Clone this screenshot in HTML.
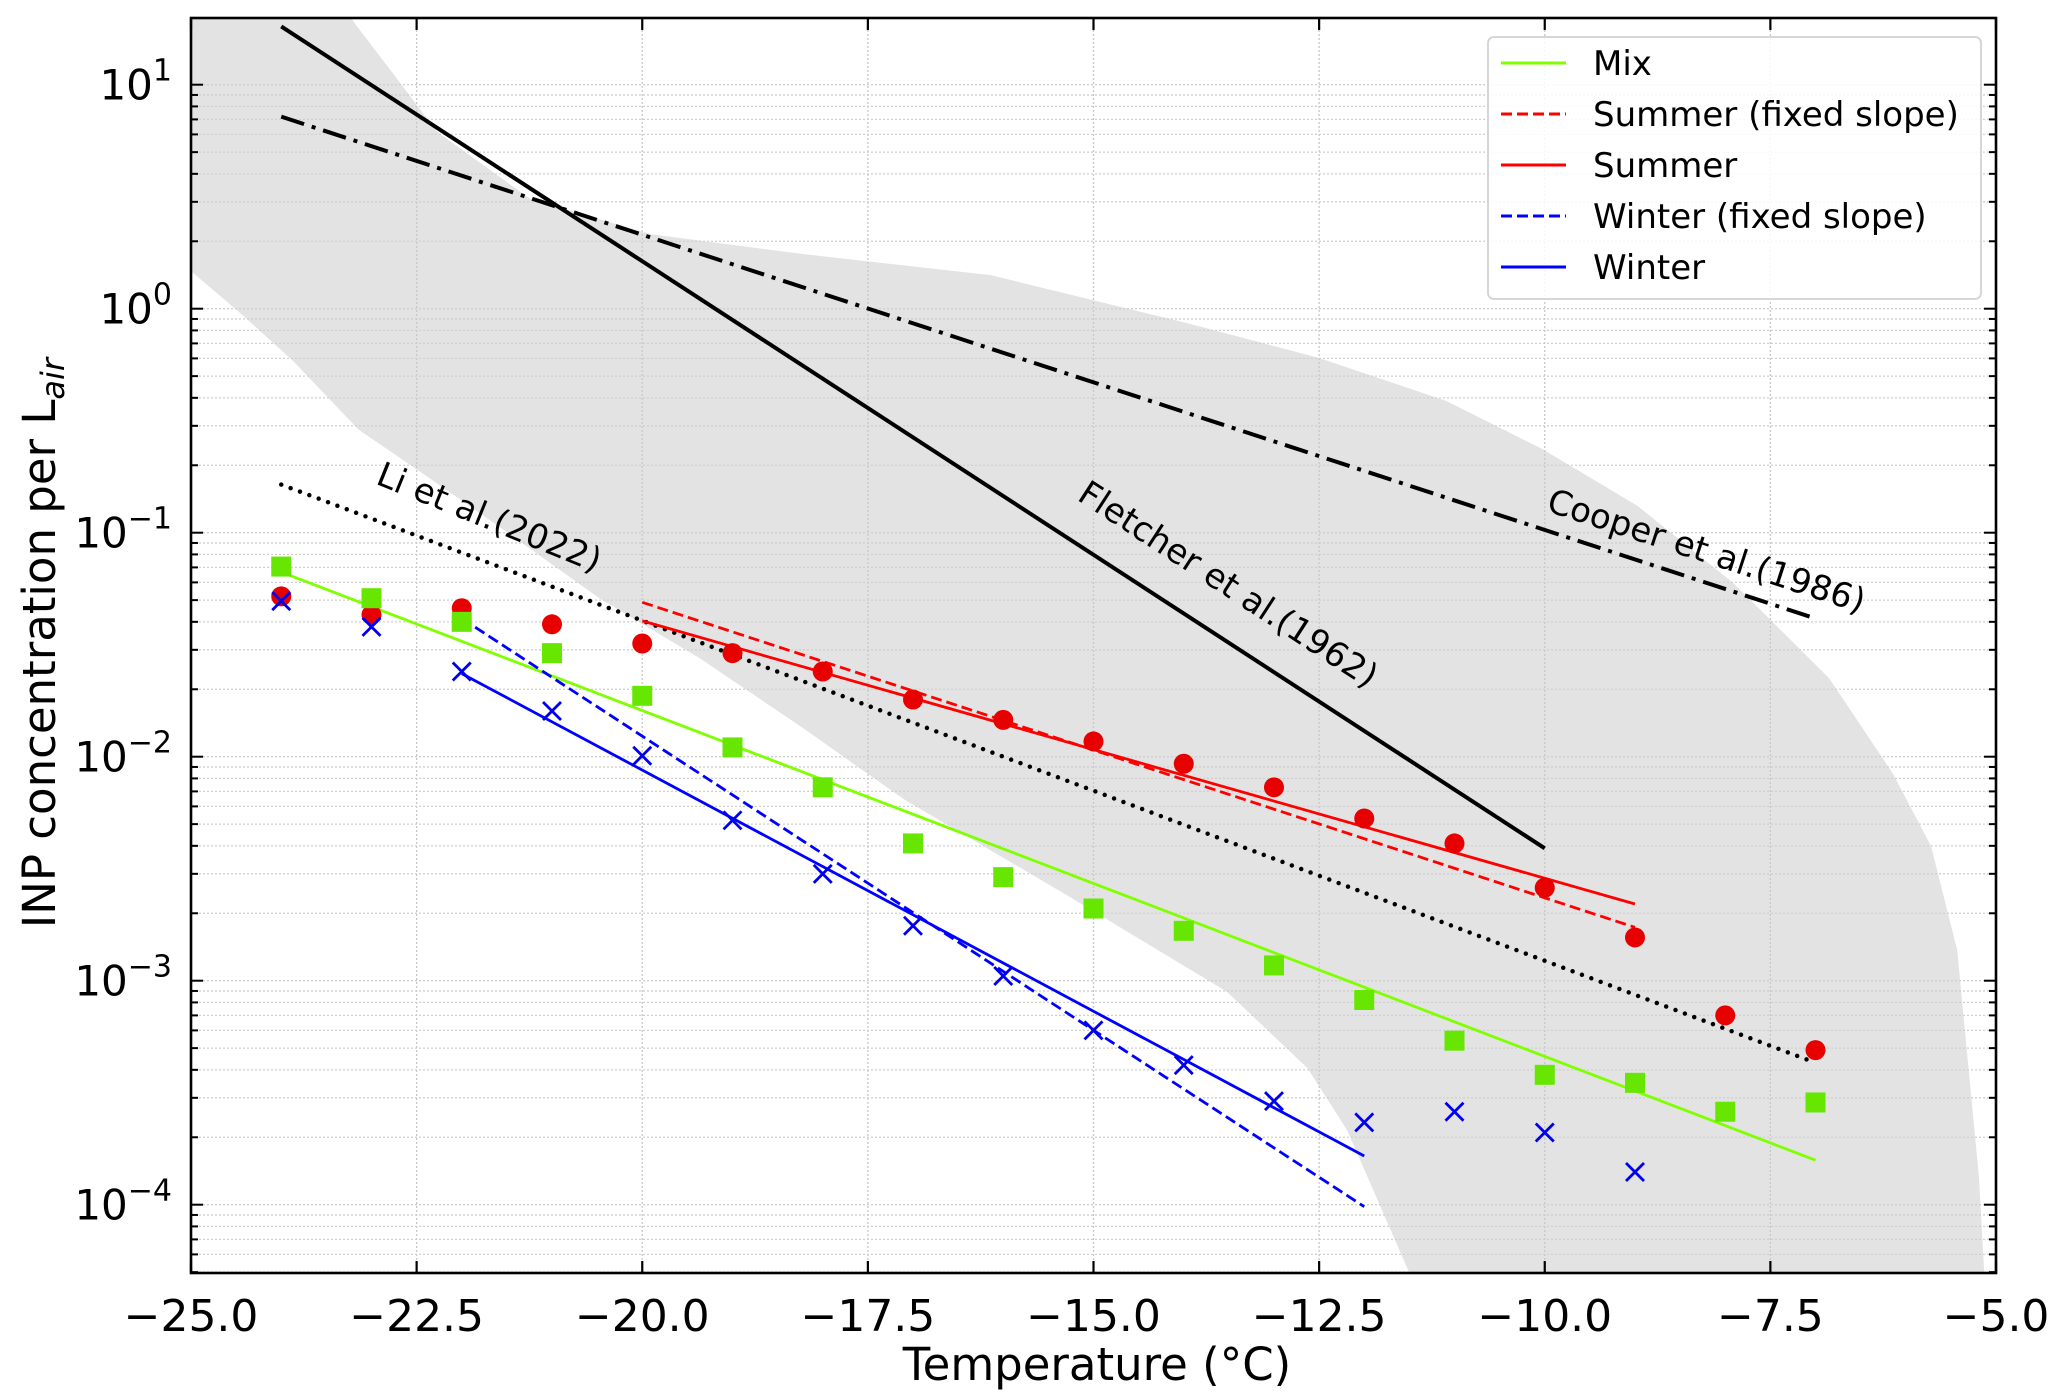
<!DOCTYPE html>
<html><head><meta charset="utf-8"><style>
html,body{margin:0;padding:0;background:#fff;}
svg{display:block;font-family:"DejaVu Sans","Liberation Sans",sans-serif;}
</style></head><body>
<svg id="chart" width="2067" height="1398" viewBox="0 0 2067 1398" xmlns="http://www.w3.org/2000/svg">
<g id="band"></g>
<g id="grid"></g>
<g id="refs"></g>
<g id="fits"></g>
<g id="pts"></g>
<g id="axes"></g>
<g id="legend"></g>
</svg>
<script>
const temps = [-24,-23,-22,-21,-20,-19,-18,-17,-16,-15,-14,-13,-12,-11,-10,-9,-8,-7];
const mixVals = [0.0706,0.051,0.040,0.029,0.0187,0.011,0.0073,0.0041,0.0029,0.0021,0.00167,0.00117,0.00082,0.00054,0.00038,0.00035,0.00026,0.000286];
const summerVals = [0.052,0.043,0.046,0.039,0.032,0.029,0.024,0.018,0.0146,0.0117,0.0093,0.0073,0.0053,0.0041,0.0026,0.00156,0.0007,0.00049];
const winterTemps = [-24,-23,-22,-21,-20,-19,-18,-17,-16,-15,-14,-13,-12,-11,-10,-9];
const winterVals = [0.0495,0.038,0.024,0.016,0.0101,0.0052,0.003,0.00176,0.00105,0.0006,0.00042,0.00029,0.000233,0.00026,0.00021,0.00014];
const mixFitT = [-24,-7], mixFitV = [0.0667,0.000158];
const summerFitT = [-20,-9], summerFitV = [0.0404,0.0022];
const summerFixT = [-20,-9], summerFixV = [0.0489,0.00173];
const winterFitT = [-22,-12], winterFitV = [0.0235,0.000165];
const winterFixT = [-22,-12], winterFixV = [0.0414,0.000098];
const liT = [-24,-7], liV = [0.164,0.00043];
const fletcherT = [-24,-10], fletcherV = [18.2,0.0039];
const cooperT = [-24,-7], cooperV = [7.2,0.0414];
const bandUpperT = [-23.23,-22.27,-21.24,-19.91,-18.22,-16.14,-13.92,-12.5,-11.09,-10.03,-8.97,-7.91,-6.85,-6.14,-5.72,-5.43,-5.19,-5.13];
const bandUpperLog = [1.298,0.789,0.49,0.333,0.244,0.15,-0.069,-0.22,-0.412,-0.626,-0.881,-1.225,-1.649,-2.077,-2.399,-2.863,-3.872,-4.305];
const bandLowerT = [-25,-24.43,-23.87,-23.14,-22.52,-21.61,-20.48,-19.35,-18.22,-17.09,-15.28,-13.52,-12.63,-12.19,-11.5];
const bandLowerLog = [0.168,-0.028,-0.233,-0.541,-0.711,-0.966,-1.291,-1.564,-1.872,-2.193,-2.622,-3.05,-3.39,-3.667,-4.305];
const xTicks = [-25,-22.5,-20,-17.5,-15,-12.5,-10,-7.5,-5];
const xTickLabels = ["\u221225.0","\u221222.5","\u221220.0","\u221217.5","\u221215.0","\u221212.5","\u221210.0","\u22127.5","\u22125.0"];
const yDecades = [-4,-3,-2,-1,0,1];
const yTickLabels = ["\u22124","\u22123","\u22122","\u22121","0","1"];

const L=191,R=1996,T=18,B=1273;
const X = t => L + (t+25)*(R-L)/20;
const YL = lg => 308.7 - 224*lg;
const Y = v => YL(Math.log10(v));
const NS="http://www.w3.org/2000/svg";
function mk(tag, attrs, parent){const e=document.createElementNS(NS,tag);for(const k in attrs)e.setAttribute(k,attrs[k]);parent.appendChild(e);return e;}
const band=document.getElementById('band'),grid=document.getElementById('grid'),refs=document.getElementById('refs'),fits=document.getElementById('fits'),pts=document.getElementById('pts'),axes=document.getElementById('axes'),legend=document.getElementById('legend');

let d=`M${L},${T} L${X(bandUpperT[0])},${T} `;
bandUpperT.forEach((t,i)=>{d+=`L${X(t)},${Math.min(B,YL(bandUpperLog[i]))} `;});
for(let i=bandLowerT.length-1;i>=0;i--){d+=`L${X(bandLowerT[i])},${Math.min(B,YL(bandLowerLog[i]))} `;}
d+='Z';
const bp=mk('path',{d:d,fill:'#e3e3e3'},band);



xTicks.forEach(t=>{const g=mk('line',{x1:X(t),x2:X(t),y1:T,y2:B,stroke:'#c8c8c8','stroke-width':1.3,'stroke-dasharray':'2,2'},grid);

});
for(let dec=-5;dec<=1;dec++){for(let m=1;m<=9;m++){const y=YL(dec+Math.log10(m));if(y<T||y>B)continue;
const g=mk('line',{x1:L,x2:R,y1:y,y2:y,stroke:'#cfcfcf','stroke-width':1.3,'stroke-dasharray':'2,2'},grid);

}}

function line(ts,vs,color,w,dash,name,parent){const a={x1:X(ts[0]),y1:Y(vs[0]),x2:X(ts[1]),y2:Y(vs[1]),stroke:color,'stroke-width':w};if(dash)a['stroke-dasharray']=dash;if(dash&&dash.startsWith('0'))a['stroke-linecap']='round';const e=mk('line',a,parent);

}
line(cooperT,cooperV,'#000',4,'24,8,4,8','cooper-1986-line',refs);
line(fletcherT,fletcherV,'#000',4,null,'fletcher-1962-line',refs);
line(liT,liV,'#000',4.5,'0,10','li-2022-line',refs);
line(mixFitT,mixFitV,'#7fff00',2.8,null,'mix-fit-line',fits);
line(summerFixT,summerFixV,'#ff0000',2.8,'11,5','summer-fixed-slope-line',fits);
line(summerFitT,summerFitV,'#ff0000',2.8,null,'summer-fit-line',fits);
line(winterFixT,winterFixV,'#0000ff',2.8,'11,5','winter-fixed-slope-line',fits);
line(winterFitT,winterFitV,'#0000ff',2.8,null,'winter-fit-line',fits);

function label(txt,x,y,ang,name){const e=mk('text',{x:x,y:y,'font-size':34,'text-anchor':'middle',transform:`rotate(${ang} ${x} ${y})`},refs);e.textContent=txt;

}
label('Li et al.(2022)',485,528,22,'li-2022-label');
label('Fletcher et al.(1962)',1222,594,33,'fletcher-1962-label');
label('Cooper et al.(1986)',1703,562,18,'cooper-1986-label');

summerVals.forEach((v,i)=>{const e=mk('ellipse',{cx:X(temps[i]),cy:Y(v),rx:10,ry:10,fill:'#e60000'},pts);

});
mixVals.forEach((v,i)=>{const e=mk('rect',{x:X(temps[i])-10,y:Y(v)-10,width:20,height:20,fill:'#66e600'},pts);

});
winterVals.forEach((v,i)=>{const cx=X(winterTemps[i]),cy=Y(v),s=9;const e=mk('path',{d:`M${cx-s},${cy-s}L${cx+s},${cy+s}M${cx-s},${cy+s}L${cx+s},${cy-s}`,stroke:'#0000ee','stroke-width':2.8,fill:'none'},pts);

});

const fr=mk('rect',{x:L,y:T,width:R-L,height:B-T,fill:'none',stroke:'#000','stroke-width':2.6},axes);


xTicks.forEach((t,i)=>{const x=X(t);
const a=mk('line',{x1:x,x2:x,y1:B,y2:B-12,stroke:'#000','stroke-width':2.2},axes);


const b=mk('line',{x1:x,x2:x,y1:T,y2:T+12,stroke:'#000','stroke-width':2.2},axes);


const tx=mk('text',{x:x,y:1331,'font-size':44,'text-anchor':'middle'},axes);tx.textContent=xTickLabels[i];

});
for(let dec=-5;dec<=1;dec++){for(let m=1;m<=9;m++){const y=YL(dec+Math.log10(m));if(y<T||y>B)continue;const len=m===1?12:7;
const a=mk('line',{x1:L,x2:L+len,y1:y,y2:y,stroke:'#000','stroke-width':2},axes);


const b=mk('line',{x1:R,x2:R-len,y1:y,y2:y,stroke:'#000','stroke-width':2},axes);

}}
yDecades.forEach((dec,i)=>{const y=YL(dec);const tx=mk('text',{x:172,y:y+15,'font-size':42,'text-anchor':'end'},axes);
tx.innerHTML=`10<tspan dy="-19" font-size="30">${yTickLabels[i]}</tspan>`;

});
const xl=mk('text',{x:1097,y:1380,'font-size':45,'text-anchor':'middle'},axes);xl.textContent='Temperature (°C)';


const yl=mk('text',{x:0,y:0,'font-size':45,'text-anchor':'middle',transform:'translate(55,643) rotate(-90)'},axes);
yl.innerHTML='INP concentration per L<tspan font-size="32" dy="9" font-style="italic">air</tspan>';



const lb=mk('rect',{x:1488,y:37,width:493,height:262,rx:6,fill:'#fff','fill-opacity':0.85,stroke:'#d6d6d6','stroke-width':2},legend);


const legNames=['Mix','Summer (fixed slope)','Summer','Winter (fixed slope)','Winter'];
const legColors=['#7fff00','#ff0000','#ff0000','#0000ff','#0000ff'];
const legDash=[null,'11,5',null,'11,5',null];
const legY=[63,114,165,216,267];
legNames.forEach((n,i)=>{const a={x1:1501,x2:1566,y1:legY[i],y2:legY[i],stroke:legColors[i],'stroke-width':3};if(legDash[i])a['stroke-dasharray']=legDash[i];
const ln=mk('line',a,legend);


const t=mk('text',{x:1593,y:legY[i]+12,'font-size':34},legend);t.textContent=n;

});
</script>
</body></html>
